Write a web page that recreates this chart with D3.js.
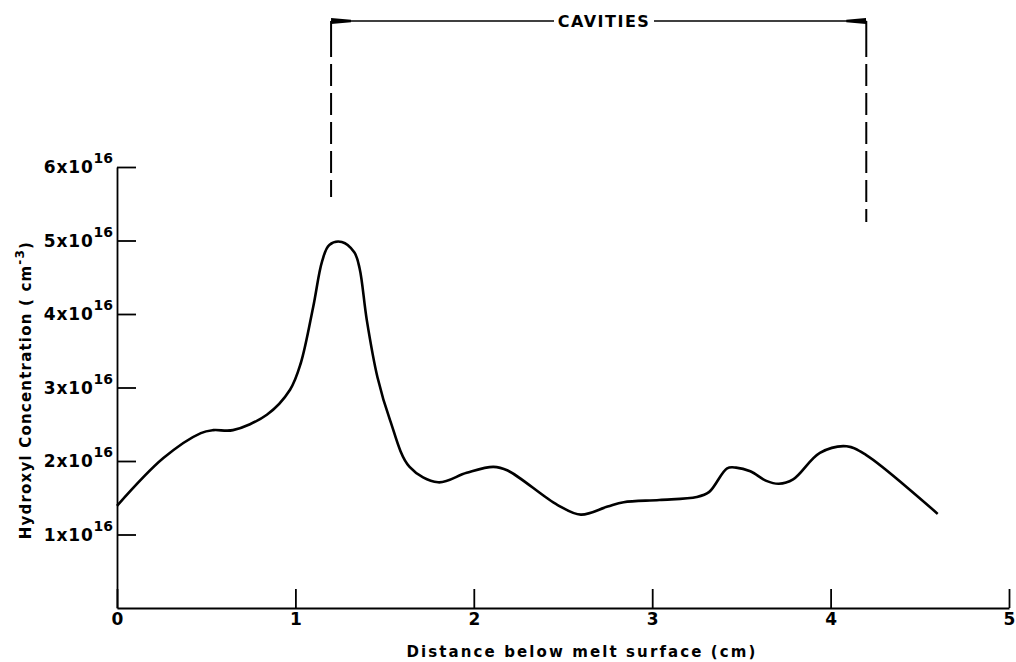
<!DOCTYPE html>
<html lang="en">
<head>
  <meta charset="UTF-8">
  <title>Hydroxyl concentration vs distance</title>
  <script src="https://d3js.org/d3.v7.min.js"></script>
  <style>
    body { margin: 0; background: #fff; }
    svg text { font-family: 'DejaVu Sans', sans-serif; font-weight: bold; fill: #000; }
  </style>
</head>
<body>
<div id="chart"></div>
<script>
  // distance below melt surface (cm)
  var distance = [0, 0.26, 0.47, 0.54, 0.65, 0.84, 0.97, 1.03, 1.10, 1.15, 1.19, 1.26, 1.33, 1.36, 1.40, 1.46, 1.53, 1.64,
    1.80, 1.96, 2.11, 2.19, 2.47, 2.60, 2.75, 2.84, 3.04, 3.25, 3.32, 3.42, 3.47, 3.55, 3.64, 3.71,
    3.79, 3.94, 4.09, 4.20, 4.60];
  // hydroxyl concentration (units of 1e16 cm^-3)
  var concentration = [1.39, 2.04, 2.38, 2.42, 2.42, 2.63, 2.97, 3.33, 4.10, 4.72, 4.94, 4.98, 4.84, 4.62, 3.92, 3.14, 2.56, 1.92,
    1.71, 1.84, 1.92, 1.87, 1.40, 1.27, 1.38, 1.44, 1.47, 1.51, 1.58, 1.90, 1.91, 1.86, 1.73, 1.69,
    1.75, 2.11, 2.20, 2.08, 1.28];
  var xTicks = [0, 1, 2, 3, 4, 5];
  var yTicks = [1, 2, 3, 4, 5, 6];
  var cavities = [1.2, 4.2];

  var WIDTH = 1016, HEIGHT = 662;
  var svg = d3.select('#chart').append('svg')
    .attr('width', WIDTH)
    .attr('height', HEIGHT);

  var x = d3.scaleLinear().domain([0, 5]).range([117, 1009]);
  var y = d3.scaleLinear().domain([0, 6]).range([608, 167]);

  // x axis, ticks pointing up
  var xAxis = svg.append('g')
    .attr('transform', 'translate(0,' + y(0) + ')')
    .call(d3.axisBottom(x).tickValues(xTicks).tickFormat(d3.format('d'))
      .tickSize(-19).tickSizeOuter(0).tickPadding(5));
  xAxis.selectAll('text').style('font-size', '17px');

  // y axis, ticks pointing right
  var yAxis = svg.append('g')
    .attr('transform', 'translate(' + x(0) + ',0)')
    .call(d3.axisLeft(y).tickValues(yTicks).tickSize(-19).tickSizeOuter(0).tickFormat(''));

  svg.selectAll('.domain, .tick line')
    .attr('stroke', '#000')
    .attr('stroke-width', 1.8);

  // y tick labels "Nx10^16"
  var yLab = svg.append('g').selectAll('text')
    .data(yTicks)
    .enter()
    .append('text')
    .attr('x', x(0) - 4)
    .attr('y', function (d) { return y(d) + 6; })
    .attr('text-anchor', 'end')
    .style('font-size', '17px')
    .style('letter-spacing', '0.8px');
  yLab.append('tspan').text(function (d) { return d + 'x10'; });
  yLab.append('tspan').attr('dy', -10).style('font-size', '14px').style('letter-spacing', '0px').text('16');

  // axis titles
  svg.append('text')
    .attr('x', 582)
    .attr('y', 657)
    .attr('text-anchor', 'middle')
    .style('font-size', '15px')
    .style('letter-spacing', '2.1px')
    .text('Distance below melt surface (cm)');

  var yTitle = svg.append('text')
    .attr('transform', 'translate(31,390) rotate(-90)')
    .attr('text-anchor', 'middle')
    .style('font-size', '15px')
    .style('letter-spacing', '1.2px');
  yTitle.append('tspan').text('Hydroxyl  Concentration ( cm');
  yTitle.append('tspan').attr('dy', -7).style('font-size', '12px').text('-3');
  yTitle.append('tspan').attr('dy', 7).text(')');

  // data curve
  var line = d3.line()
    .x(function (d, i) { return x(distance[i]); })
    .y(function (d) { return y(d); })
    .curve(d3.curveCatmullRom.alpha(0.5));

  svg.append('path')
    .datum(concentration)
    .attr('d', line)
    .attr('fill', 'none')
    .attr('stroke', '#000')
    .attr('stroke-width', 2.6)
    .attr('stroke-linejoin', 'round');

  // cavities annotation
  var topY = 21;
  var ends = [197, 222];
  svg.append('g').selectAll('line')
    .data(cavities)
    .enter()
    .append('line')
    .attr('x1', function (d) { return x(d); })
    .attr('x2', function (d) { return x(d); })
    .attr('y1', topY)
    .attr('y2', function (d, i) { return ends[i]; })
    .attr('stroke', '#000')
    .attr('stroke-width', 2)
    .attr('stroke-dasharray', '36,7,22,7,22,7,22,7,22,7,22,7');

  var defs = svg.append('defs');
  defs.append('marker')
    .attr('id', 'arrow')
    .attr('viewBox', '0 0 20 6')
    .attr('refX', 20)
    .attr('refY', 3)
    .attr('markerWidth', 20)
    .attr('markerHeight', 6)
    .attr('markerUnits', 'userSpaceOnUse')
    .attr('orient', 'auto')
    .append('path')
    .attr('d', 'M0,1.8L20,0L20,6L0,4.2Z')
    .attr('fill', '#000');

  var midX = 604;
  svg.append('line')
    .attr('x1', midX - 50).attr('x2', x(cavities[0]))
    .attr('y1', topY).attr('y2', topY)
    .attr('stroke', '#000').attr('stroke-width', 1.6)
    .attr('marker-end', 'url(#arrow)');
  svg.append('line')
    .attr('x1', midX + 50).attr('x2', x(cavities[1]))
    .attr('y1', topY).attr('y2', topY)
    .attr('stroke', '#000').attr('stroke-width', 1.6)
    .attr('marker-end', 'url(#arrow)');
  svg.append('text')
    .attr('x', midX)
    .attr('y', topY + 6)
    .attr('text-anchor', 'middle')
    .style('font-size', '16px')
    .style('letter-spacing', '1.5px')
    .text('CAVITIES');
</script>
</body>
</html>
